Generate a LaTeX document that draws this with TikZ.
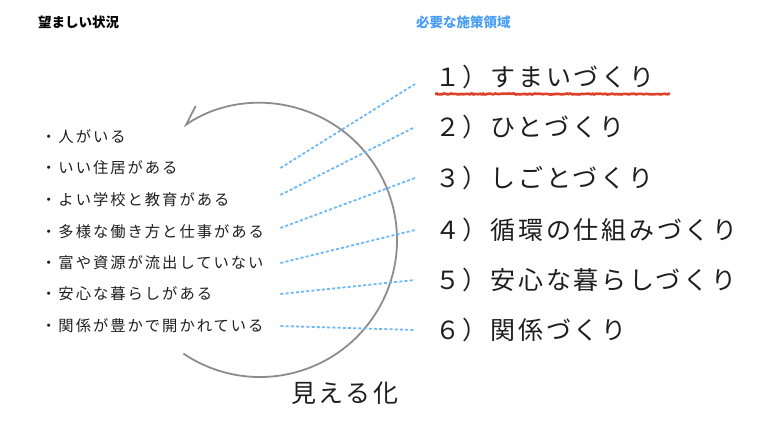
\documentclass[tikz,border=0pt]{standalone}
\usepackage{fontspec}
\usetikzlibrary{arrows.meta, positioning, decorations.pathmorphing}
\newfontfamily\jp{Noto Sans CJK JP}
\newfontfamily\jpsmall[LetterSpace=13]{Noto Sans CJK JP}
\newfontfamily\jpbig[LetterSpace=11]{Noto Sans CJK JP}
\definecolor{ink}{HTML}{1E1E1E}
\definecolor{headblue}{HTML}{4A9FF5}
\definecolor{linkblue}{HTML}{6DB8F7}
\definecolor{loopgray}{HTML}{8C8C8C}
\definecolor{markred}{HTML}{E0402A}

\begin{document}
\begin{tikzpicture}[x=1pt, y=-1pt,
    head/.style={anchor=west, inner sep=0, font=\jp\bfseries\fontsize{13.5}{16}\selectfont},
    want/.style={anchor=west, inner sep=0, text width=239pt, align=left, text=ink, font=\jpsmall\fontsize{15.3}{18}\selectfont},
    area/.style={anchor=west, inner sep=0, outer xsep=20pt, text=ink, font=\jpbig\fontsize{25}{30}\selectfont},
    link/.style={linkblue, line width=1.8pt, dash pattern=on 3pt off 2.2pt}]
    \useasboundingbox (0,0) rectangle (770,434);

    \node[head] (want) at (38,22) {望ましい状況};
    \node[head, text=headblue] (need) at (416,22) {必要な施策領域};

    \node[want] (w1) at (41,137) {・人がいる};
    \node[want] (w2) at (41,168) {・いい住居がある};
    \node[want] (w3) at (41,200) {・よい学校と教育がある};
    \node[want] (w4) at (41,232) {・多様な働き方と仕事がある};
    \node[want] (w5) at (41,263) {・富や資源が流出していない};
    \node[want] (w6) at (41,294) {・安心な暮らしがある};
    \node[want] (w7) at (41,326) {・関係が豊かで開かれている};

    \node[area] (a1) at (415,77)  {１）すまいづくり};
    \node[area] (a2) at (415,127) {２）ひとづくり};
    \node[area] (a3) at (415,178) {３）しごとづくり};
    \node[area] (a4) at (415,230) {４）循環の仕組みづくり};
    \node[area] (a5) at (415,280) {５）安心な暮らしづくり};
    \node[area] (a6) at (415,330) {６）関係づくり};

    \node[anchor=west, inner sep=0, text=ink, font=\jpbig\fontsize{25}{30}\selectfont] (vis) at (291,393) {見える化};

    % loop
    \coordinate (c) at (260,240);
    \draw[loopgray, line width=1.8pt, -{Straight Barb[right, length=18pt, width=20pt]}]
        (c) ++(124:137) arc[start angle=124, end angle=-124, radius=137];

    % links
    \draw[link] (w2.east) -- ([yshift=-7pt]a1.west);
    \draw[link] ([yshift=5pt]w3.east) -- (a2.west);
    \draw[link] ([yshift=4pt]w4.east) -- (a3.west);
    \draw[link] (w5.east) -- (a4.west);
    \draw[link] (w6.east) -- (a5.west);
    \draw[link] (w7.east) -- (a6.west);

    \draw[markred, line width=2.6pt, decorate, decoration={random steps, segment length=1.5pt, amplitude=0.5pt}]
        (435,94) -- (670,94);
\end{tikzpicture}
\end{document}
